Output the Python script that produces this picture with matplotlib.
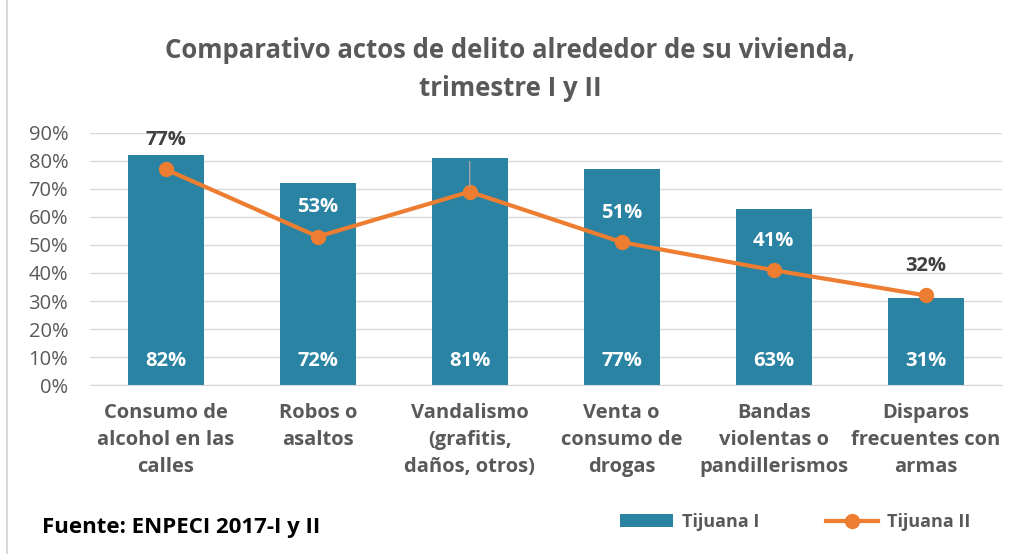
import matplotlib

matplotlib.use('AGG')  # noqa

import matplotlib.pyplot as plt
from matplotlib.lines import Line2D
from matplotlib.ticker import PercentFormatter

categories = [
    "Consumo de\nalcohol en las\ncalles",
    "Robos o\nasaltos",
    "Vandalismo\n(grafitis,\ndaños, otros)",
    "Venta o\nconsumo de\ndrogas",
    "Bandas\nviolentas o\npandillerismos",
    "Disparos\nfrecuentes con\narmas",
]
tijuana_1 = [0.82, 0.72, 0.81, 0.77, 0.63, 0.31]
tijuana_2 = [0.77, 0.53, 0.69, 0.51, 0.41, 0.32]
yticks = [0, 0.1, 0.2, 0.3, 0.4, 0.5, 0.6, 0.7, 0.8, 0.9]

BLUE = '#2A83A2'
ORANGE = '#ED7D31'
GRAY = '#595959'

plt.rcParams['font.family'] = ['Open Sans', 'DejaVu Sans']

fig = plt.figure(figsize=(10.2, 5.54), dpi=100)
ax = fig.add_axes([0.088, 0.305, 0.894, 0.455])

x = list(range(len(categories)))
bars = ax.bar(x, tijuana_1, width=0.5, color=BLUE, label='Tijuana I', zorder=2)
line, = ax.plot(x, tijuana_2, '-o', color=ORANGE, lw=3, ms=10, label='Tijuana II',
                zorder=3)

# bar labels, white, near the bottom
for xi, v in zip(x, tijuana_1):
    ax.annotate('%d%%' % round(v * 100), (xi, 0), xytext=(0, 17.5),
                textcoords='offset points', ha='center', va='center',
                color='white', fontsize=14.5, fontweight='bold', zorder=4)

# line labels: white when they sit inside the bar, dark otherwise
for xi, v, b in zip(x, tijuana_2, tijuana_1):
    inside = v + 0.08 < b
    color = 'white' if inside else '#404040'
    if xi == 2:
        ax.annotate('%d%%' % round(v * 100), (xi, v), xytext=(0, 32),
                    textcoords='offset points', ha='center', va='center',
                    color=color, fontsize=14.5, fontweight='bold', zorder=4,
                    arrowprops=dict(arrowstyle='-', color='#A6A6A6', lw=1,
                                    shrinkA=1, shrinkB=4))
    else:
        ax.annotate('%d%%' % round(v * 100), (xi, v), xytext=(0, 21),
                    textcoords='offset points', ha='center', va='center',
                    color=color, fontsize=14.5, fontweight='bold', zorder=4)

ax.set_xlim(-0.5, len(categories) - 0.5)
ax.set_ylim(0, 0.9)
ax.set_yticks(yticks)
ax.yaxis.set_major_formatter(PercentFormatter(1.0, decimals=0))
ax.set_xticks(x)
ax.set_xticklabels(categories, fontsize=14.5, fontweight='bold', color=GRAY,
                   linespacing=1.45)
ax.tick_params(axis='y', labelsize=14.5, labelcolor=GRAY, length=0, pad=15.5)
ax.tick_params(axis='x', length=0, pad=13)
ax.grid(axis='y', color='#D9D9D9', lw=1, zorder=0)
for s in ['top', 'right', 'left']:
    ax.spines[s].set_visible(False)
ax.spines['bottom'].set_color('#D9D9D9')

fig.text(0.5, 0.875, 'Comparativo actos de delito alrededor de su vivienda,\ntrimestre I y II',
         ha='center', va='center', fontsize=18.5, fontweight='bold', color=GRAY,
         linespacing=1.5)

fig.text(0.041, 0.048, 'Fuente: ENPECI 2017-I y II', ha='left', va='center',
         fontsize=16, fontweight='bold', color='black')

leg = fig.legend([bars, line], ['Tijuana I', 'Tijuana II'], loc='center',
                 bbox_to_anchor=(0.78, 0.058), ncol=2, frameon=False,
                 handlelength=2.9, columnspacing=3.7, handletextpad=0.5,
                 prop={'weight': 'bold', 'size': 13})
for t in leg.get_texts():
    t.set_color(GRAY)

fig.add_artist(Line2D([0.007, 0.007], [0, 1], color='#D9D9D9', lw=1.5))

plt.savefig('out.png', dpi=100)
